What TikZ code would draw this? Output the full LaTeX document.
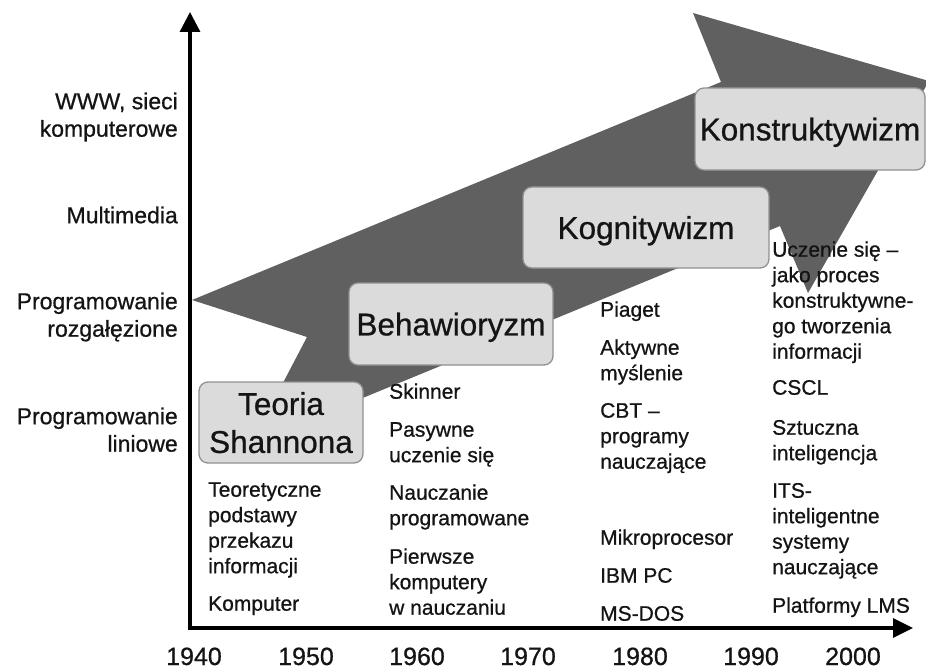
\documentclass[tikz,border=0pt]{standalone}
\usepackage{fontspec}
\setmainfont{Liberation Sans}[FakeBold=0.7]
\usetikzlibrary{arrows.meta}
\definecolor{arrowgray}{RGB}{96,96,96}
\definecolor{boxfill}{RGB}{219,219,219}
\definecolor{boxline}{RGB}{145,145,145}
\definecolor{inkc}{RGB}{20,20,20}
\newcommand{\tsA}{\rule{0pt}{16bp}}
\newcommand{\tsB}{\rule{0pt}{17bp}}
\begin{document}
\begin{tikzpicture}[x=1bp,y=-1bp,
  stage/.style={draw=boxline, line width=1.3bp, fill=boxfill, rounded corners=9bp,
    inner sep=0pt, font=\fontsize{31.5bp}{38bp}\selectfont, align=center,
    text depth=0pt, text=inkc},
  ylab/.style={anchor=north east, align=right, inner sep=0pt,
    font=\fontsize{23bp}{27.5bp}\selectfont, text=inkc},
  note/.style={anchor=north west, align=left, inner sep=0pt,
    font=\fontsize{21bp}{25.5bp}\selectfont, text=inkc},
  yearlab/.style={anchor=base, inner sep=0pt,
    font=\fontsize{25bp}{30bp}\selectfont, text=inkc},
  axisline/.style={line width=3.2bp, draw=black,
    {Triangle[length=20bp,width=20bp]}-{Triangle[length=20bp,width=19bp]}}]
\useasboundingbox[fill=white] (0,0) rectangle (926,669);

% big notched arrow
\coordinate (U) at (192,300);
\coordinate (A) at (721,82);
\coordinate (H1) at (693,13);
\coordinate (T) at (929,81);
\coordinate (H2) at (808,293);
\coordinate (B) at (780,226);
\coordinate (L) at (251,444);
\coordinate (N) at (307,337);
\fill[arrowgray] (U) -- (A) -- (H1) -- (T) -- (H2) -- (B) -- (L) -- (N) -- cycle;

% axes
\coordinate (ytop) at (190,12);
\coordinate (orig) at (190,628);
\coordinate (xend) at (913,628);
\draw[axisline] (ytop) -- (orig) -- (xend);

% stage boxes
\node[stage, minimum width=164bp, minimum height=81bp] (teoria) at (281,422.5) {Teoria\\Shannona};
\node[stage, minimum width=204bp, minimum height=82bp] (behaw) at (451,324) {Behawioryzm};
\node[stage, minimum width=246bp, minimum height=81bp] (kogn) at (646,227.5) {Kognitywizm};
\node[stage, minimum width=230bp, minimum height=82bp] (konstr) at (810,129) {Konstruktywizm};

% y-axis labels
\node[ylab] (yl1) at (178,92) {\tsB WWW, sieci\\komputerowe};
\node[ylab] (yl2) at (178,206) {\tsB Multimedia};
\node[ylab] (yl3) at (178,292) {\tsB Programowanie\\rozgałęzione};
\node[ylab] (yl4) at (178,407) {\tsB Programowanie\\liniowe};

% years
\node[yearlab] (y1940) at (194,665) {1940};
\node[yearlab] (y1950) at (306,665) {1950};
\node[yearlab] (y1960) at (417,665) {1960};
\node[yearlab] (y1970) at (528,665) {1970};
\node[yearlab] (y1980) at (640,665) {1980};
\node[yearlab] (y1990) at (751,665) {1990};
\node[yearlab] (y2000) at (853,665) {2000};

% column 1
\node[note] (c1a) at (208,480.5) {\tsA Teoretyczne\\podstawy\\przekazu\\informacji};
\node[note] (c1b) at (208,594.5) {\tsA Komputer};
% column 2
\node[note] (c2a) at (389,382.5) {\tsA Skinner};
\node[note] (c2b) at (389,420.5) {\tsA Pasywne\\uczenie się};
\node[note] (c2c) at (389,483.5) {\tsA Nauczanie\\programowane};
\node[note] (c2d) at (389,547.5) {\tsA Pierwsze\\komputery\\w nauczaniu};
% column 3
\node[note] (c3a) at (600,300.5) {\tsA Piaget};
\node[note] (c3b) at (600,338.5) {\tsA Aktywne\\myślenie};
\node[note] (c3c) at (600,401.5) {\tsA CBT –\\programy\\nauczające};
\node[note] (c3d) at (600,528.5) {\tsA Mikroprocesor};
\node[note] (c3e) at (600,566.5) {\tsA IBM PC};
\node[note] (c3f) at (600,604.5) {\tsA MS-DOS};
% column 4
\node[note] (c4a) at (772,240.5) {\tsA Uczenie się –\\jako proces\\konstruktywne-\\go tworzenia\\informacji};
\node[note] (c4b) at (772,378.5) {\tsA CSCL};
\node[note] (c4c) at (772,418.5) {\tsA Sztuczna\\inteligencja};
\node[note] (c4d) at (772,481.5) {\tsA ITS-\\inteligentne\\systemy\\nauczające};
\node[note] (c4e) at (772,596.5) {\tsA Platformy LMS};
\end{tikzpicture}
\end{document}
